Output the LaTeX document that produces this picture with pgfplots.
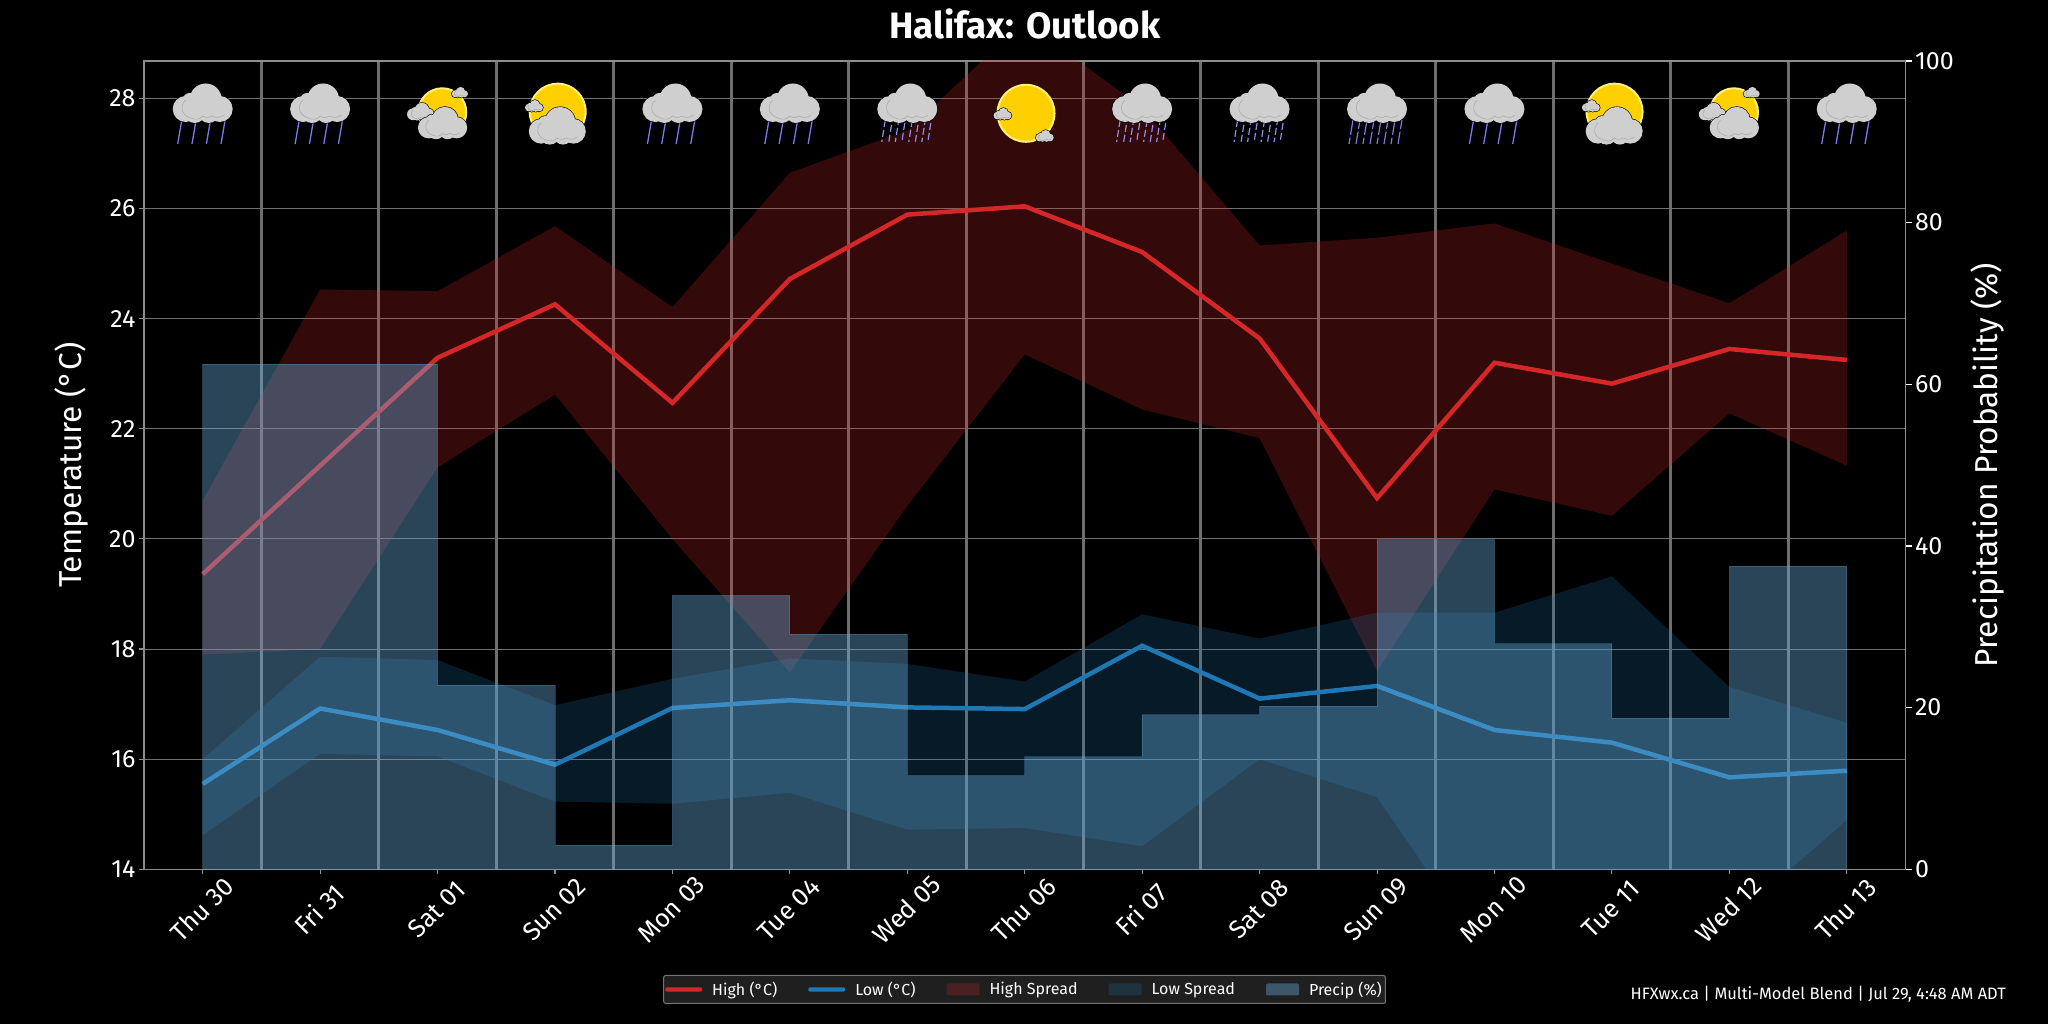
\documentclass[border=0pt]{standalone}
\usepackage{fontspec}
\setmainfont{Fira Sans}
\usepackage{pgfplots}
\pgfplotsset{compat=1.18}
\usepackage{pgfplotstable}
\definecolor{redline}{HTML}{D62728}
\definecolor{blueline}{HTML}{1F77B4}
\definecolor{barc}{HTML}{69ACDC}
\definecolor{gridc}{HTML}{707070}
\definecolor{sepc}{HTML}{6E6E6E}
\definecolor{spinec}{HTML}{8C8C8C}
\definecolor{cloudc}{HTML}{CFCFCF}
\definecolor{rainc}{HTML}{7A7AF0}
\definecolor{sunc}{HTML}{FFD000}
\definecolor{sunr}{HTML}{FFF080}
\pgfplotstableread{
i high low precip
0 19.36 15.55 62.5
1 21.33 16.92 62.5
2 23.29 16.53 22.8
3 24.26 15.90 3.0
4 22.47 16.93 33.9
5 24.72 17.07 29.1
6 25.89 16.94 11.6
7 26.04 16.91 13.9
8 25.21 18.06 19.1
9 23.64 17.10 20.2
10 20.74 17.33 40.8
11 23.20 16.53 27.9
12 22.82 16.30 18.7
13 23.45 15.67 37.5
14 23.25 15.79 37.5
}\datatable
\pgfplotstableread{
i t
0 20.70
1 24.53
2 24.50
3 25.68
4 24.21
5 26.65
6 27.42
7 29.40
8 27.83
9 25.33
10 25.47
11 25.73
12 25.00
13 24.28
14 25.60
14 21.33
13 22.28
12 20.42
11 20.90
10 17.60
9 21.83
8 22.35
7 23.35
6 20.60
5 17.58
4 20.00
3 22.62
2 21.30
1 18.00
0 17.90
}\highspread
\pgfplotstableread{
i t
0 16.00
1 17.86
2 17.80
3 16.98
4 17.46
5 17.83
6 17.73
7 17.41
8 18.63
9 18.19
10 18.66
11 18.66
12 19.32
13 17.31
14 16.66
14 14.90
13 13.03
12 12.60
11 12.20
10 15.31
9 16.00
8 14.42
7 14.75
6 14.72
5 15.39
4 15.19
3 15.23
2 16.05
1 16.10
0 14.62
}\lowspread
\newcommand{\fs}[1]{\fontsize{#1}{#1}\selectfont}
\newcommand{\cloudblobs}[1]{%
  \path[#1] (3,7.5) circle (16) (-17,-2) circle (13) (17,-2) circle (13)
            (-8,-5) circle (11) (6,-6) circle (10) (-13,7) circle (7) (14,4) circle (8);}
\newcommand{\drawcloud}[3]{%
  \begin{scope}[shift={(#1,#2)},scale=#3]
    \cloudblobs{draw=black,line width=1.2pt}
    \cloudblobs{fill=cloudc}
    \draw[color=gray!70,line width=0.5pt] (-17,7) .. controls (-23,2) and (-22,-8) .. (-12,-11)
      .. controls (-8,-13) and (-3,-13) .. (0,-9) .. controls (3,-11) and (6,-11) .. (9,-9)
      .. controls (13,-11) and (18,-11) .. (21,-8);
  \end{scope}}
\newcommand{\rainicon}{%
  \foreach \d in {-21,-6.7,7.7,22.3}
    \draw[rainc,line width=1.3pt] (\d,-13.7) -- (\d-4,-37);
  \drawcloud{0}{0}{1}}
\newcommand{\sleeticon}{%
  \foreach \d/\p in {-22/0,-15/5,-8.5/2,-2/7,5/0,11.5/5,18/2,24/7}
    \draw[rainc!85!white,line width=1.2pt,dash pattern=on 7pt off 3pt,dash phase=\p pt] (\d,-13) -- (\d-3.5,-35);
  \drawcloud{0}{0}{1}}
\newcommand{\heavyicon}{%
  \foreach \d/\p in {-24/0,-17/6,-10/0,-3/6,4/0,11/6,18/0,25/6}
    \draw[rainc,line width=1.2pt,dash pattern=on 15pt off 3pt,dash phase=\p pt] (\d,-13) -- (\d-4,-37);
  \drawcloud{0}{0}{1}}
\newcommand{\sunshape}[3]{%
  \fill[sunc,draw=sunr,line width=2pt] (#1,#2) circle (#3);}
\newcommand{\iconA}{%
  \sunshape{4.7}{-5.3}{24}
  \drawcloud{22.3}{13.7}{0.27}
  \drawcloud{-17}{-6.4}{0.45}
  \drawcloud{5}{-19.1}{0.82}}
\newcommand{\iconB}{%
  \sunshape{2.7}{-4.7}{28}
  \drawcloud{2.3}{-22.4}{0.95}
  \drawcloud{-21}{0}{0.3}}
\newcommand{\iconS}{%
  \sunshape{1.3}{-6.3}{28.5}
  \drawcloud{-22.2}{-8}{0.3}
  \drawcloud{20}{-30}{0.3}}
\begin{document}
\begin{tikzpicture}
\useasboundingbox (0pt,0pt) rectangle (2048pt,1024pt);
\fill[black] (0pt,0pt) rectangle (2048pt,1024pt);
\begin{axis}[
  at={(144pt,154.7pt)},anchor=south west,
  scale only axis,width=1761.5pt,height=808.3pt,
  xmin=-0.5,xmax=14.5,ymin=14,ymax=28.68,
  axis line style={spinec,line width=1.4pt},
  tick style={spinec,line width=1.1pt},
  major tick length=5pt,
  minor tick length=0pt,
  tick align=outside,
  xtick={0,...,14},
  minor xtick={0.5,1.5,2.5,3.5,4.5,5.5,6.5,7.5,8.5,9.5,10.5,11.5,12.5,13.5},
  xminorgrids,
  minor grid style={sepc,line width=3pt},
  xticklabels={Thu 30,Fri 31,Sat 01,Sun 02,Mon 03,Tue 04,Wed 05,Thu 06,Fri 07,Sat 08,Sun 09,Mon 10,Tue 11,Wed 12,Thu 13},
  xtick pos=bottom,ytick pos=left,
  ytick={14,16,...,28},
  ymajorgrids,
  major grid style={gridc,line width=1pt},
  tick label style={white,font=\fs{25}},
  /pgf/number format/assume math mode=true,
  xticklabel style={xshift=-1pt,yshift=-35pt,rotate=45,anchor=center,font=\fs{25.5}},
  ylabel={Temperature (°C)},
  every axis y label/.style={at={(axis description cs:-0.0414,0.5)},rotate=90,anchor=center,white,font=\fs{31.7}},
  title={\bfseries Halifax: Outlook},
  every axis title/.style={at={(axis description cs:0.5,1.0458)},anchor=center,white,font=\fs{36.7}},
]
\addplot[fill=redline,fill opacity=0.24,draw=none,forget plot] table[x=i,y=t] {\highspread} -- cycle;
\addplot[fill=blueline,fill opacity=0.22,draw=none,forget plot] table[x=i,y=t] {\lowspread} -- cycle;
\addplot[redline,line width=4.5pt] table[x=i,y=high] {\datatable};
\addplot[blueline,line width=4.5pt] table[x=i,y=low] {\datatable};
\end{axis}
\begin{axis}[
  at={(144pt,154.7pt)},anchor=south west,
  scale only axis,width=1761.5pt,height=808.3pt,
  xmin=-0.5,xmax=14.5,ymin=0,ymax=100,
  hide x axis,
  axis y line*=right,
  axis line style={spinec,line width=1.1pt},
  y axis line style={-},
  tick style={white,line width=1.1pt},
  major tick length=6pt,
  tick align=outside,
  ytick={0,20,...,100},
  tick label style={white,font=\fs{25}},
  /pgf/number format/assume math mode=true,
  ylabel={Precipitation Probability (\%)},
  every axis y label/.style={at={(axis description cs:1.0468,0.5)},rotate=90,anchor=center,white,font=\fs{31.7}},
  legend columns=5,
  legend style={
    at={(axis description cs:0.4999,-0.1487)},anchor=center,
    fill=black!88!white,draw=black!55!white,rounded corners=2pt,
    text=white,font=\fs{16},inner xsep=1.5pt,inner ysep=4.5pt,line width=1pt,
    /tikz/every odd column/.style={column sep=8pt},
    /tikz/every even column/.style={column sep=29pt},
  },
  legend cell align=left,
]
\addlegendimage{legend image code/.code={\fill[redline,draw=none] (0pt,-2.2pt) rectangle (37pt,2.2pt);}}
\addlegendimage{legend image code/.code={\fill[blueline,draw=none] (0pt,-2.2pt) rectangle (37pt,2.2pt);}}
\addlegendimage{legend image code/.code={\fill[redline,fill opacity=0.24,draw=none] (0pt,-6pt) rectangle (33pt,6pt);}}
\addlegendimage{legend image code/.code={\fill[blueline,fill opacity=0.22,draw=none] (0pt,-6pt) rectangle (33pt,6pt);}}
\addplot[const plot mark left,fill=barc,fill opacity=0.4,draw=barc,draw opacity=0.25,line width=1pt,
  legend image code/.code={\fill[barc,fill opacity=0.4,draw=none] (0pt,-6pt) rectangle (33pt,6pt);}]
  table[x=i,y=precip] {\datatable} \closedcycle;
\legend{High (°C),Low (°C),High Spread,Low Spread,Precip (\%)}
\end{axis}
\begin{scope}[x=1pt,y=1pt]
\foreach \n/\ic in {0/\rainicon,1/\rainicon,2/\iconA,3/\iconB,4/\rainicon,5/\rainicon,6/\sleeticon,7/\iconS,8/\sleeticon,9/\sleeticon,10/\heavyicon,11/\rainicon,12/\iconB,13/\iconA,14/\rainicon}{
  \pgfmathsetmacro{\cx}{202.7+117.43*\n}
  \begin{scope}[shift={(\cx,917)}]
    \ic
  \end{scope}
}
\end{scope}
\node[white,anchor=east,font=\fs{16.5},inner sep=0pt] at (2006pt,29.5pt) {HFXwx.ca | Multi-Model Blend | Jul 29, 4:48 AM ADT};
\end{tikzpicture}
\end{document}
